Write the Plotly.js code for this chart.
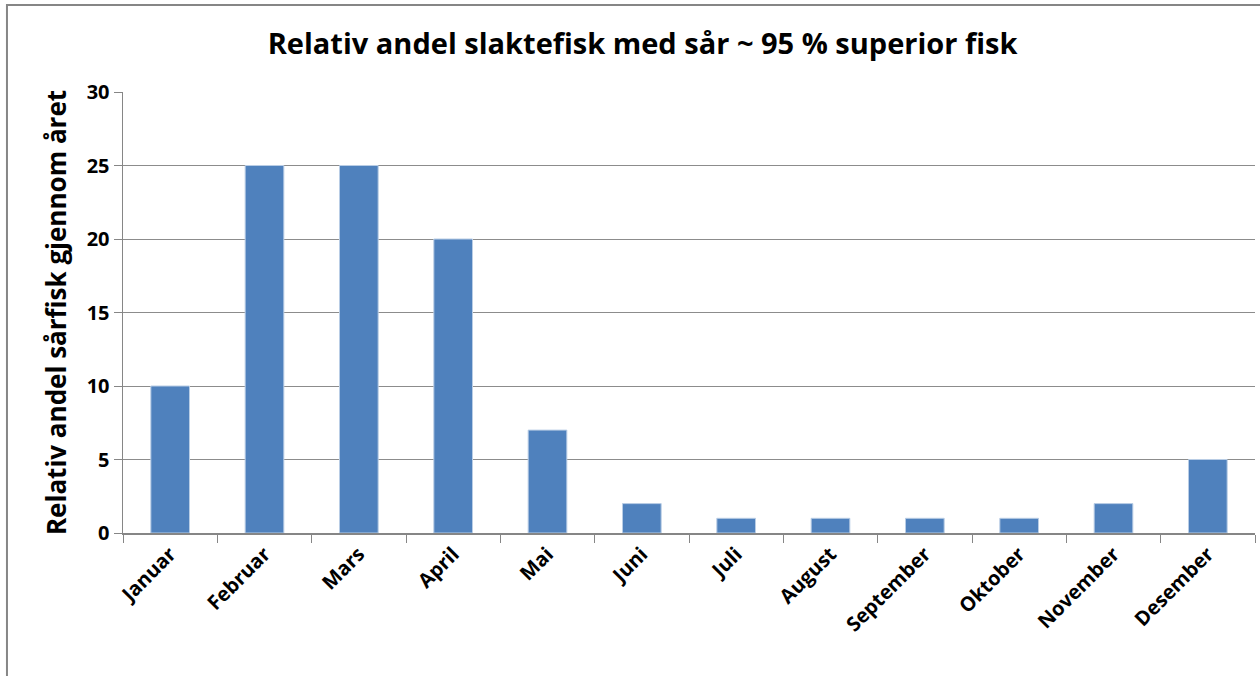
<!DOCTYPE html>
<html><head><meta charset="utf-8">
<script src="https://cdn.plot.ly/plotly-3.0.1.min.js"></script>
<style>body{margin:0;padding:0;background:#fff}#c{width:1260px;height:676px}</style>
</head><body><div id="c"></div>
<script>
const months = ["Januar","Februar","Mars","April","Mai","Juni","Juli","August","September","Oktober","November","Desember"];
const values = [10,25,25,20,7,2,1,1,1,1,2,5];
const yTicks = [0,5,10,15,20,25,30];

const font = "Open Sans, Lato, sans-serif";
const trace = {
  type: "bar", x: months, y: values,
  marker: {color: "#4F81BD", line: {color: "#B9CDE5", width: 1}},
  hoverinfo: "x+y"
};
const layout = {
  width: 1260, height: 676,
  margin: {l: 123, r: 5, t: 92, b: 143},
  paper_bgcolor: "#fff", plot_bgcolor: "#fff",
  bargap: 0.59,
  showlegend: false,
  title: {text: "<b>Relativ andel slaktefisk med sår ~ 95 % superior fisk</b>",
          font: {family: font, size: 29, color: "#000"},
          x: 0.51, xref: "container", xanchor: "center", y: 0.935, yref: "container", yanchor: "middle"},
  xaxis: {
    type: "category", tickangle: -45,
    tickfont: {family: font, size: 20, color: "#000", weight: "bold"},
    showline: true, linecolor: "#868686", linewidth: 1.5,
    ticks: "outside", ticklen: 8, tickcolor: "#868686", tickson: "boundaries",
    showgrid: false, fixedrange: true
  },
  yaxis: {
    range: [0, 30], tickvals: yTicks, ticktext: yTicks.map(String),
    tickfont: {family: font, size: 20, color: "#000", weight: "bold"},
    showline: true, linecolor: "#868686", linewidth: 1.5,
    ticks: "outside", ticklen: 8, tickcolor: "#868686",
    showgrid: true, gridcolor: "#8C8C8C", gridwidth: 1, zeroline: false,
    title: {text: "<b>Relativ andel sårfisk gjennom året</b>", font: {family: font, size: 26, color: "#000"}, standoff: 12},
    fixedrange: true
  },
  shapes: [{type: "rect", xref: "paper", yref: "paper", x0: -0.1025, x1: 1.02, y0: -0.4, y1: 1.197,
            line: {color: "#868686", width: 2}, fillcolor: "rgba(0,0,0,0)", layer: "below"}]
};
Plotly.newPlot("c", [trace], layout, {displayModeBar: false, staticPlot: true});
</script></body></html>
